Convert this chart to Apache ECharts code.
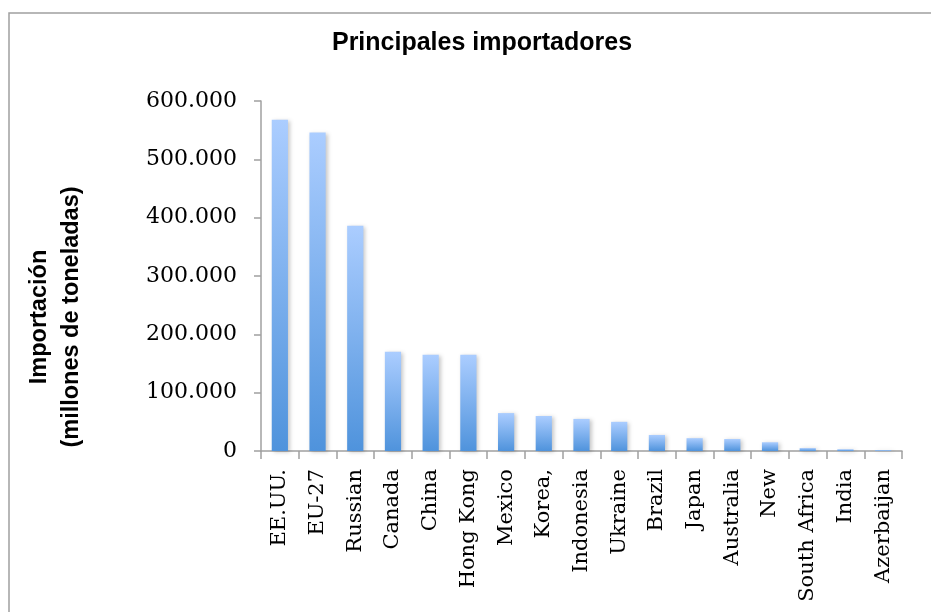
<!DOCTYPE html>
<html>
<head>
<meta charset="utf-8">
<script src="https://cdn.jsdelivr.net/npm/echarts@6/dist/echarts.min.js"></script>
<style>
  html, body { margin: 0; padding: 0; background: #fff; }
  #main { width: 931px; height: 612px; }
</style>
</head>
<body>
<div id="main"></div>
<script>
// datos (miles)
const paises = ['EE.UU.', 'EU-27', 'Russian', 'Canada', 'China', 'Hong Kong', 'Mexico', 'Korea,',
  'Indonesia', 'Ukraine', 'Brazil', 'Japan', 'Australia', 'New', 'South Africa', 'India', 'Azerbaijan']
const importacion = [568, 546, 386, 170, 165, 165, 65, 60, 55, 50, 27.5, 22, 20.5, 15, 5, 3, 1.5]
const yMax = 600
const yPaso = 100

const chart = echarts.init(document.getElementById('main'))

const option = {
  animation: false,
  title: {
    text: 'Principales importadores',
    left: 477,
    textAlign: 'center',
    top: 26,
    textStyle: { fontFamily: 'Liberation Sans', fontWeight: 'bold', fontSize: 25, color: '#000' }
  },
  graphic: [
    {
      type: 'rect',
      shape: { x: 9, y: 13, width: 1000, height: 1000 },
      style: { fill: 'none', stroke: '#a0a0a0', lineWidth: 1.5 },
      silent: true
    },
    {
      type: 'text',
      x: 56,
      y: 317,
      rotation: Math.PI / 2,
      style: {
        text: 'Importación\n(millones de toneladas)',
        font: 'bold 23.5px "Liberation Sans"',
        fill: '#000',
        align: 'center',
        verticalAlign: 'middle',
        lineHeight: 32
      }
    }
  ],
  grid: { left: 261, right: 29, top: 101, bottom: 161 },
  xAxis: {
    type: 'category',
    data: paises,
    axisLine: { lineStyle: { color: '#a0a0a0', width: 1.5 } },
    axisTick: { show: true, length: 8, alignWithLabel: false, lineStyle: { color: '#a0a0a0', width: 1.5 } },
    axisLabel: {
      rotate: 90,
      interval: 0,
      margin: 18,
      fontFamily: 'DejaVu Serif',
      fontSize: 21,
      color: '#000'
    }
  },
  yAxis: {
    type: 'value',
    min: 0,
    max: yMax,
    interval: yPaso,
    axisLine: { show: true, lineStyle: { color: '#a0a0a0', width: 1.5 } },
    axisTick: { show: true, length: 7, lineStyle: { color: '#a0a0a0', width: 1.5 } },
    splitLine: { show: false },
    axisLabel: {
      margin: 24,
      fontFamily: 'DejaVu Serif',
      fontSize: 22,
      color: '#000',
      formatter: v => v === 0 ? '0' : v + '.000'
    }
  },
  series: [
    {
      type: 'bar',
      data: importacion,
      barWidth: '43%',
      itemStyle: {
        color: new echarts.graphic.LinearGradient(0, 0, 0, 1, [
          { offset: 0, color: '#abcdff' },
          { offset: 1, color: '#4f93dc' }
        ]),
        shadowColor: 'rgba(0,0,0,0.22)',
        shadowBlur: 4,
        shadowOffsetX: 2,
        shadowOffsetY: 1
      }
    }
  ]
}

chart.setOption(option)
</script>
</body>
</html>
